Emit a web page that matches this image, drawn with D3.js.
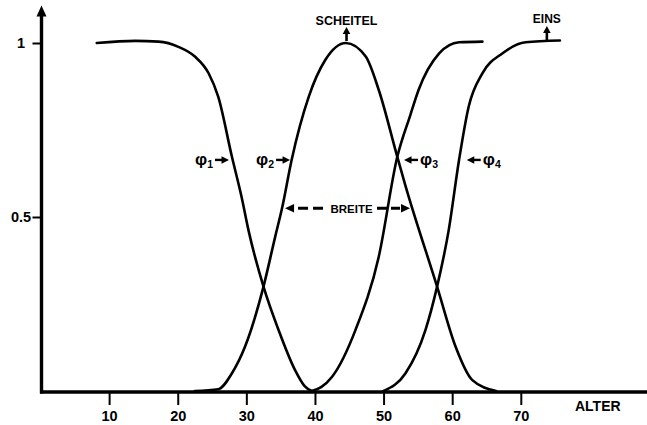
<!DOCTYPE html>
<html>
<head>
<meta charset="utf-8">
<script src="https://cdn.jsdelivr.net/npm/d3@7"></script>
<style>
body { margin: 0; background: #fff; }
text { font-family: "Liberation Sans", Arial, sans-serif; font-weight: bold; fill: #000; }
</style>
</head>
<body>
<script>
const w = 647;
const h = 425;

const xTicks = [10, 20, 30, 40, 50, 60, 70];
const yTicks = [0.5, 1];
const yTickLabels = ["0.5", "1"];

// curves as [alter, value]
const curve1 = [[8.2, 1.0], [13.8, 1.006], [17.2, 1.004], [20.1, 0.989], [22.5, 0.961], [24.5, 0.913],
  [25.9, 0.846], [27.9, 0.673], [29.3, 0.558], [30.3, 0.463], [32.5, 0.30], [34.7, 0.175],
  [37.1, 0.06], [38.5, 0.014], [39.5, 0.0]];
const curve2 = [[22.5, 0.0], [25.9, 0.005], [27.9, 0.051], [29.8, 0.127], [32.5, 0.30], [34.2, 0.443],
  [35.2, 0.525], [36.6, 0.664], [39.1, 0.846], [41.5, 0.951], [44.5, 1.0], [47.4, 0.961],
  [49.3, 0.865], [52.0, 0.673], [53.1, 0.596], [57.8, 0.30], [60.5, 0.127], [62.9, 0.032], [66.4, 0.0]];
const curve3 = [[39.5, 0.0], [40.9, 0.011], [42.5, 0.041], [45.9, 0.175], [49.3, 0.386], [52.0, 0.673],
  [53.9, 0.793], [55.1, 0.865], [58.1, 0.970], [61.0, 1.002], [64.4, 1.004]];
const curve4 = [[50.0, 0.0], [53.2, 0.051], [56.1, 0.175], [57.8, 0.30], [59.5, 0.463], [61.0, 0.664],
  [62.4, 0.817], [64.4, 0.913], [67.3, 0.970], [70.7, 1.002], [75.7, 1.007]];

// annotation anchors, in alter / value
const phiSubs = ["1", "2", "3", "4"];
const phiAges = [27.47, 36.37, 52.98, 62.12];
const phiDirs = [1, 1, -1, -1];
const phiVal = 0.664;
const breite = [35.64, 53.85];
const breiteVal = 0.525;
const scheitelAge = 44.6;
const einsAge = 73.8;

const x = d3.scaleLinear().domain([0, 70]).range([40.5, 520.8]);
const y = d3.scaleLinear().domain([0, 1]).range([391, 43]);

const svg = d3.select("body")
  .append("svg")
  .attr("width", w)
  .attr("height", h);

const arrowHead = (g, tx, ty, dx, dy, len, half) => {
  // dx,dy = unit direction the arrow points to
  const bx = tx - dx * len, by = ty - dy * len;
  g.append("polygon")
    .attr("points", [[tx, ty], [bx - dy * half, by + dx * half], [bx + dy * half, by - dx * half]].join(" "))
    .attr("fill", "#000");
};

const arrow = (g, x1, y1, x2, y2, len, half, sw) => {
  const L = Math.hypot(x2 - x1, y2 - y1);
  const dx = (x2 - x1) / L, dy = (y2 - y1) / L;
  g.append("line")
    .attr("x1", x1).attr("y1", y1)
    .attr("x2", x2 - dx * (len - 1)).attr("y2", y2 - dy * (len - 1))
    .attr("stroke", "#000").attr("stroke-width", sw);
  arrowHead(g, x2, y2, dx, dy, len, half);
};

// axes
const xAxis = svg.append("g")
  .attr("transform", "translate(0,392)")
  .call(d3.axisBottom(x).tickValues(xTicks).tickSize(13).tickPadding(6));
xAxis.select(".domain").remove();
xAxis.selectAll("line").attr("stroke", "#000").attr("stroke-width", 2);
xAxis.selectAll("text").attr("font-size", 14.5).attr("font-family", null);

const yAxis = svg.append("g")
  .attr("transform", "translate(41.5,0)")
  .call(d3.axisLeft(y).tickValues(yTicks).tickSize(9).tickFormat((d, i) => yTickLabels[i]));
yAxis.select(".domain").remove();
yAxis.selectAll("line").attr("stroke", "#000").attr("stroke-width", 2);
yAxis.selectAll("text").attr("font-size", 14.5).attr("font-family", null)
  .attr("text-anchor", "middle").attr("x", -20.5);

svg.append("line")
  .attr("x1", 40).attr("x2", w)
  .attr("y1", 392).attr("y2", 392)
  .attr("stroke", "#000").attr("stroke-width", 3.4);

svg.append("line")
  .attr("x1", 41.5).attr("x2", 41.5)
  .attr("y1", 393.5).attr("y2", 15)
  .attr("stroke", "#000").attr("stroke-width", 3.4);
arrowHead(svg, 41.5, 5.5, 0, -1, 11, 5);

svg.append("text")
  .attr("x", 575).attr("y", 411)
  .attr("font-size", 14)
  .text("ALTER");

// curves
const line = d3.line()
  .x(d => x(d[0]))
  .y(d => y(d[1]))
  .curve(d3.curveMonotoneX);

svg.append("g")
  .selectAll("path")
  .data([curve1, curve2, curve3, curve4])
  .enter().append("path")
  .attr("d", line)
  .attr("fill", "none")
  .attr("stroke", "#000")
  .attr("stroke-width", 2.6)
  .attr("stroke-linecap", "round");

// phi labels
const ann = svg.append("g");
phiSubs.forEach((s, i) => {
  const tx = x(phiAges[i]), ty = y(phiVal), dir = phiDirs[i];
  arrow(ann, tx - dir * 14, ty, tx, ty, 7.5, 3.8, 2.4);
  const t = ann.append("text")
    .attr("x", tx - dir * 16)
    .attr("y", ty + 5)
    .attr("font-size", 17)
    .attr("text-anchor", dir > 0 ? "end" : "start");
  t.append("tspan").text("φ");
  t.append("tspan").attr("font-size", 10.5).attr("dy", 3).text(s);
});

// BREITE
const bl = x(breite[0]), br = x(breite[1]), by = y(breiteVal);
arrowHead(ann, bl, by, -1, 0, 9, 4.2);
arrowHead(ann, br, by, 1, 0, 9, 4.2);
ann.append("line")
  .attr("x1", bl + 13).attr("x2", bl + 38)
  .attr("y1", by).attr("y2", by)
  .attr("stroke", "#000").attr("stroke-width", 3)
  .attr("stroke-dasharray", "10,5");
ann.append("line")
  .attr("x1", br - 33).attr("x2", br - 10)
  .attr("y1", by).attr("y2", by)
  .attr("stroke", "#000").attr("stroke-width", 3)
  .attr("stroke-dasharray", "10,4");
ann.append("text")
  .attr("x", (bl + br) / 2 + 4)
  .attr("y", by + 4.5)
  .attr("font-size", 11.5)
  .attr("text-anchor", "middle")
  .text("BREITE");

// SCHEITEL and EINS
arrow(ann, x(scheitelAge), y(1) - 2, x(scheitelAge), 27, 7, 3.8, 2.6);
ann.append("text")
  .attr("x", x(scheitelAge)).attr("y", 24.5)
  .attr("font-size", 12.5).attr("text-anchor", "middle")
  .text("SCHEITEL");

arrow(ann, x(einsAge), y(1) - 3, x(einsAge), 26, 7, 3.8, 2.6);
ann.append("text")
  .attr("x", x(einsAge)).attr("y", 23)
  .attr("font-size", 12).attr("text-anchor", "middle")
  .text("EINS");
</script>
</body>
</html>
